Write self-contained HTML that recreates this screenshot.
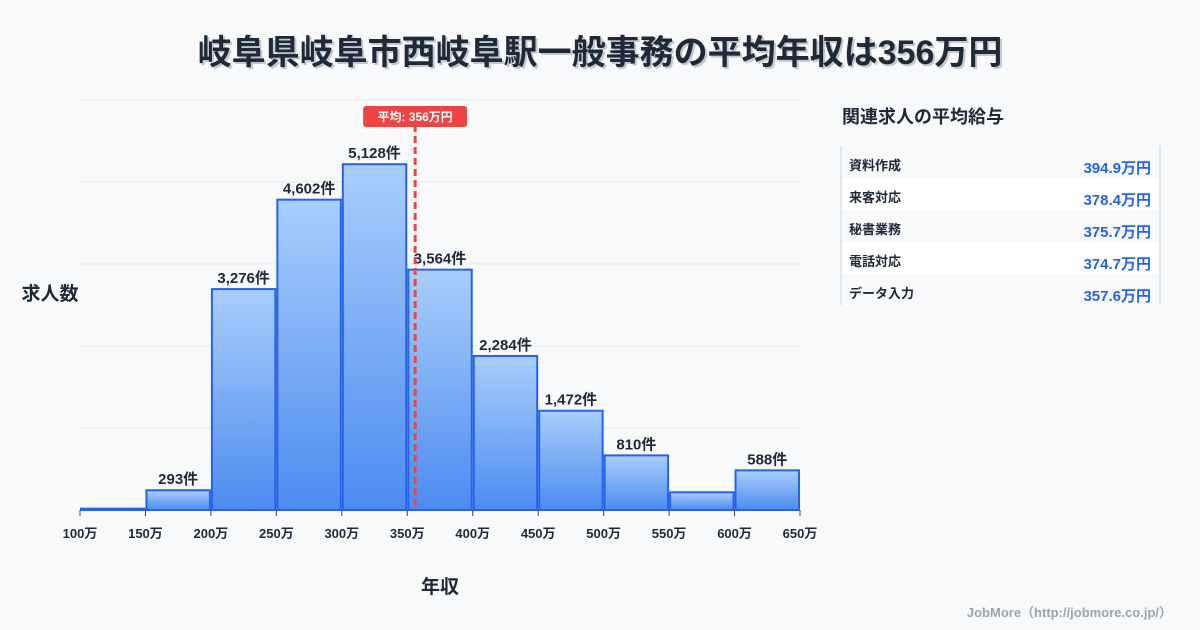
<!DOCTYPE html>
<html><head><meta charset="utf-8">
<style>
body{margin:0;width:1200px;height:630px;background:#f8f9fb;font-family:"Liberation Sans","Noto Sans CJK JP",sans-serif;overflow:hidden}
</style></head>
<body>
<svg id="chart" width="1200" height="630" xmlns="http://www.w3.org/2000/svg" style="position:absolute;left:0;top:0;font-family:'Liberation Sans','Noto Sans CJK JP',sans-serif">
<defs>
<linearGradient id="bg" x1="0" y1="0" x2="0" y2="1">
<stop offset="0" stop-color="#a9cefb"/><stop offset="1" stop-color="#4d8bf0"/>
</linearGradient>
</defs>
<text x="602" y="66" text-anchor="middle" font-size="34" font-weight="bold" fill="#c3c8d0">岐阜県岐阜市西岐阜駅一般事務の平均年収は356万円</text>
<text x="600" y="64" text-anchor="middle" font-size="34" font-weight="bold" fill="#1f2937">岐阜県岐阜市西岐阜駅一般事務の平均年収は356万円</text>
<text x="50" y="300" text-anchor="middle" font-size="19" font-weight="bold" fill="#1f2937">求人数</text>
<text x="440" y="593" text-anchor="middle" font-size="19" font-weight="bold" fill="#1f2937">年収</text>
<g id="grid"></g><g id="bars"></g><g id="labels"></g><g id="ticks"></g><g id="avg"></g>
<g>
<text x="842" y="123" font-size="18" font-weight="bold" fill="#1f2937">関連求人の平均給与</text>
<g id="rows"></g>
<line x1="841" y1="146" x2="841" y2="305" stroke="#cbd5e1"/>
<line x1="1160" y1="146" x2="1160" y2="305" stroke="#cbd5e1"/>
</g>
<text x="1172" y="617" text-anchor="end" font-size="13" font-weight="bold" fill="#9ca3af">JobMore（http://jobmore.co.jp/）</text>
</svg>
<script>
const binStarts=[100,150,200,250,300,350,400,450,500,550,600];
const counts=[20,293,3276,4602,5128,3564,2284,1472,810,263,588];
const showLabel=[false,true,true,true,true,true,true,true,true,false,true];
const xTicks=[100,150,200,250,300,350,400,450,500,550,600,650];
const yGrid=[0,1200,2400,3600,4800,6000];
const avgValue=356;
const jobs=["資料作成","来客対応","秘書業務","電話対応","データ入力"];
const jobSalaries=[394.9,378.4,375.7,374.7,357.6];
const NS="http://www.w3.org/2000/svg";
const X=v=>80+(v-100)*720/550;
const Y=v=>510-v*410/6080;
function mk(t,a,p){const e=document.createElementNS(NS,t);for(const k in a)e.setAttribute(k,a[k]);p.appendChild(e);return e;}
const g=document.getElementById('grid');
yGrid.forEach(v=>{const yy=510-v*410/6000;const l=mk('line',{x1:80,x2:800,y1:yy,y2:yy,stroke:'#e5e7eb'},g);

});
const b=document.getElementById('bars'),lb=document.getElementById('labels');
binStarts.forEach((s,i)=>{const x0=X(s)+1,x1=X(s+50)-1,y=Y(counts[i]);
const r=mk('rect',{x:x0,y:y,width:x1-x0,height:510-y,fill:'url(#bg)',stroke:'#2563eb','stroke-width':2},b);


if(showLabel[i]){const t=mk('text',{x:(x0+x1)/2,y:y-6,'text-anchor':'middle','font-size':15,'font-weight':'bold',fill:'#1f2937'},lb);
t.textContent=counts[i].toLocaleString('en-US')+'件';

}});
const tk=document.getElementById('ticks');
xTicks.forEach(v=>{const l=mk('line',{x1:X(v),x2:X(v),y1:510,y2:516,stroke:'#374151'},tk);


const t=mk('text',{x:X(v),y:538,'text-anchor':'middle','font-size':13,'font-weight':'bold',fill:'#1f2937'},tk);
t.textContent=v+'万';

});
const av=document.getElementById('avg'),ax=X(avgValue);
const al=mk('line',{x1:ax,x2:ax,y1:125,y2:510,stroke:'#ef4444','stroke-width':3,'stroke-dasharray':'7,4'},av);


const ar=mk('rect',{x:ax-52,y:106,width:104,height:21,rx:3,fill:'#ef4444'},av);


const at=mk('text',{x:ax,y:121,'text-anchor':'middle','font-size':12,'font-weight':'bold',fill:'#fff'},av);
at.textContent='平均: '+avgValue+'万円';


const rw=document.getElementById('rows');
jobs.forEach((j,i)=>{const y=146+i*32;
const r=mk('rect',{x:842,y:y+(i==0?0:0),width:317,height:i==0?37:32,fill:i%2?'#ffffff':'#f8f9fb'},rw);


const t=mk('text',{x:849,y:y+24,'font-size':13,'font-weight':'bold',fill:'#1f2937'},rw);
t.textContent=j;


const v=mk('text',{x:1151,y:y+27,'text-anchor':'end','font-size':15,'font-weight':'bold',fill:'#2563eb'},rw);
v.textContent=jobSalaries[i].toFixed(1)+'万円';

});
</script>
</body></html>
